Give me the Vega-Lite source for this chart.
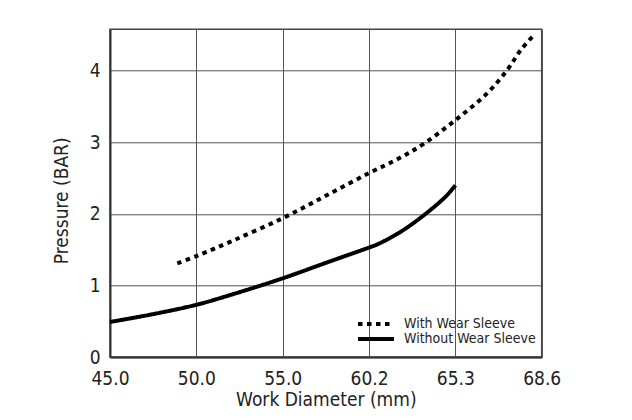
{
  "$schema": "https://vega.github.io/schema/vega-lite/v6.json",
  "width": 431.7,
  "height": 327.7,
  "autosize": {"type": "none"},
  "padding": {"left": 110, "top": 29.3, "right": 90.3, "bottom": 63},
  "background": "white",
  "config": {
    "font": "DejaVu Sans Condensed, Liberation Sans Narrow, sans-serif",
    "view": {"stroke": "#444", "strokeWidth": 1.5},
    "axis": {
      "domainColor": "#333",
      "domainWidth": 2,
      "gridColor": "#555",
      "gridWidth": 1,
      "gridOpacity": 1,
      "ticks": false,
      "labelFontSize": 19,
      "titleFontSize": 19,
      "labelColor": "#222",
      "titleColor": "#222",
      "titleFontWeight": "normal",
      "labelFlush": false
    }
  },
  "data": {
    "values": [
      {"series": "With Wear Sleeve", "diameter": 48.9, "pressure": 1.31},
      {"series": "With Wear Sleeve", "diameter": 50.0, "pressure": 1.41},
      {"series": "With Wear Sleeve", "diameter": 52.15, "pressure": 1.63},
      {"series": "With Wear Sleeve", "diameter": 55.0, "pressure": 1.94},
      {"series": "With Wear Sleeve", "diameter": 57.65, "pressure": 2.26},
      {"series": "With Wear Sleeve", "diameter": 60.2, "pressure": 2.57},
      {"series": "With Wear Sleeve", "diameter": 62.0, "pressure": 2.78},
      {"series": "With Wear Sleeve", "diameter": 63.5, "pressure": 2.99},
      {"series": "With Wear Sleeve", "diameter": 65.3, "pressure": 3.31},
      {"series": "With Wear Sleeve", "diameter": 66.5, "pressure": 3.68},
      {"series": "With Wear Sleeve", "diameter": 67.3, "pressure": 4.02},
      {"series": "With Wear Sleeve", "diameter": 67.8, "pressure": 4.29},
      {"series": "With Wear Sleeve", "diameter": 68.3, "pressure": 4.5},
      {"series": "Without Wear Sleeve", "diameter": 45.0, "pressure": 0.49},
      {"series": "Without Wear Sleeve", "diameter": 47.3, "pressure": 0.59},
      {"series": "Without Wear Sleeve", "diameter": 50.0, "pressure": 0.73},
      {"series": "Without Wear Sleeve", "diameter": 52.15, "pressure": 0.88},
      {"series": "Without Wear Sleeve", "diameter": 55.0, "pressure": 1.1},
      {"series": "Without Wear Sleeve", "diameter": 57.65, "pressure": 1.32},
      {"series": "Without Wear Sleeve", "diameter": 60.2, "pressure": 1.53},
      {"series": "Without Wear Sleeve", "diameter": 60.7, "pressure": 1.575},
      {"series": "Without Wear Sleeve", "diameter": 62.2, "pressure": 1.77},
      {"series": "Without Wear Sleeve", "diameter": 63.8, "pressure": 2.05},
      {"series": "Without Wear Sleeve", "diameter": 64.8, "pressure": 2.26},
      {"series": "Without Wear Sleeve", "diameter": 65.3, "pressure": 2.4}
    ]
  },
  "mark": {"type": "line", "interpolate": "catmull-rom", "color": "black", "strokeWidth": 4, "strokeCap": "butt"},
  "encoding": {
    "x": {
      "field": "diameter",
      "type": "quantitative",
      "scale": {"domain": [45, 50, 55, 60.2, 65.3, 68.6], "range": [0, 86.34, 172.68, 259.02, 345.36, 431.7], "nice": false, "zero": false},
      "axis": {"values": [45, 50, 55, 60.2, 65.3, 68.6], "format": ".1f", "title": "Work Diameter (mm)", "labelPadding": 12, "titlePadding": 2}
    },
    "y": {
      "field": "pressure",
      "type": "quantitative",
      "scale": {"domain": [0, 4.58], "nice": false},
      "axis": {"values": [0, 1, 2, 3, 4], "title": "Pressure (BAR)", "labelPadding": 10, "titlePadding": 18, "titleY": 171}
    },
    "strokeDash": {
      "field": "series",
      "type": "nominal",
      "scale": {"domain": ["With Wear Sleeve", "Without Wear Sleeve"], "range": [[4.5, 4.5], [1, 0]]},
      "legend": {
        "title": null,
        "orient": "none",
        "legendX": 259,
        "legendY": 287.7,
        "symbolType": "M-4,0H4",
        "symbolSize": 81,
        "symbolStrokeWidth": 4,
        "symbolStrokeColor": "black",
        "labelFontSize": 14,
        "labelColor": "#222",
        "labelOffset": 21,
        "rowPadding": -2
      }
    }
  }
}
